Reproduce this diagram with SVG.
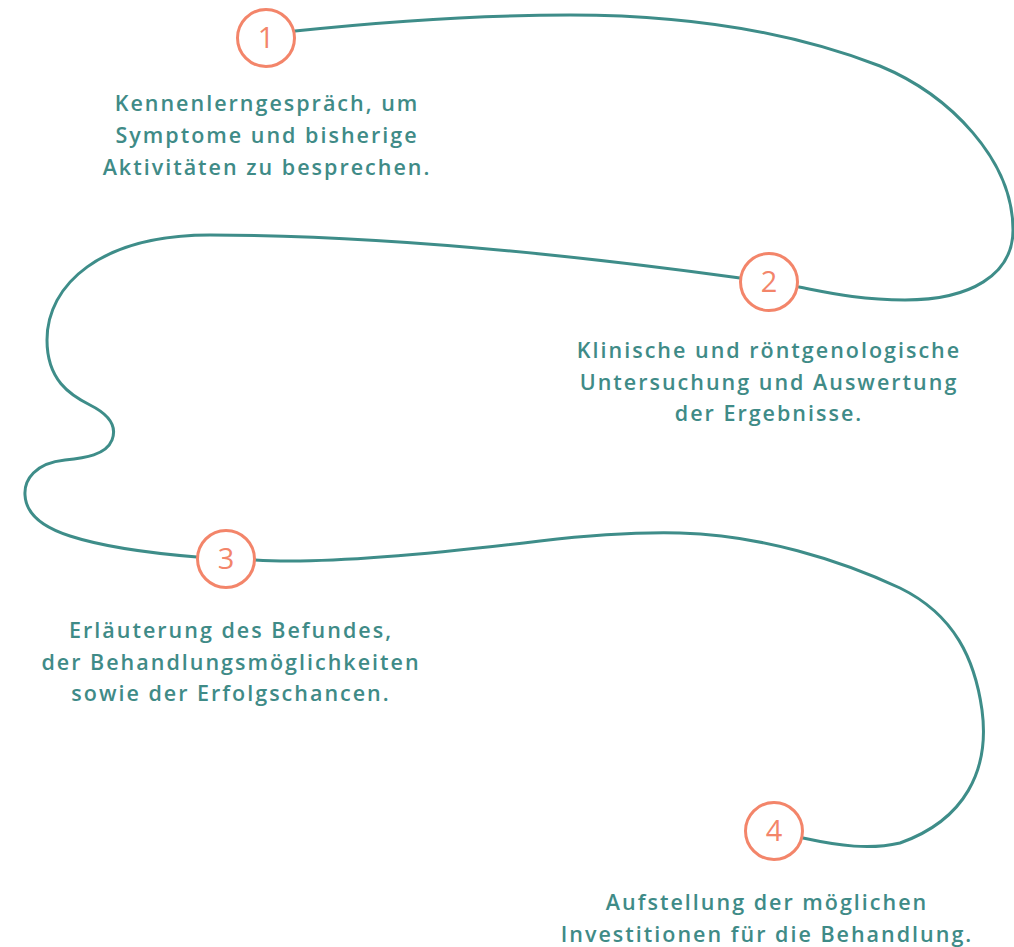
<svg xmlns="http://www.w3.org/2000/svg" width="1014" height="947" viewBox="0 0 1014 947">
<style>
.line{fill:none;stroke:#3E8D89;stroke-width:3;stroke-linecap:round}
.ring{fill:#fff;stroke:#F3856A;stroke-width:3}
.num{font-family:"Open Sans","Liberation Sans",sans-serif;font-size:29px;fill:#F3856A;text-anchor:middle}
.lbl{font-family:"Open Sans","Liberation Sans",sans-serif;font-size:21.5px;font-weight:600;fill:#3F8B87;text-anchor:middle;letter-spacing:2px}
</style>
<rect width="1014" height="947" fill="#fff"/>
<g id="connectors">
<path class="line" d="M295,31 C380,22 470,15 570,15 C700,15 800,35 880,66 C950,95 1013,160 1013,230 C1013,275 970,300 905,300 C860,300 830,293 799,287"/>
<path class="line" d="M740,278 C580,256 380,235 210,235 C100,235 47,285 47,340 C47,380 70,395 90,405 C110,415 117,427 112,440 C106,455 85,458 65,460 C35,463 24,480 25,495 C26,515 45,528 70,536 C110,549 160,554 197,557"/>
<path class="line" d="M255,560 C330,565 450,552 540,541 C600,534 640,532 680,533 C760,535 840,560 900,588 C955,615 975,660 982,710 C990,770 965,820 900,843 C870,850 840,846 803,838"/>
</g>
<g id="step1">
<circle class="ring" cx="266" cy="38" r="28.5"/>
<text class="num" x="266" y="48">1</text>
<text class="lbl" x="267" y="111">Kennenlerngespräch, um</text>
<text class="lbl" x="267" y="143">Symptome und bisherige</text>
<text class="lbl" x="267" y="175">Aktivitäten zu besprechen.</text>
</g>
<g id="step2">
<circle class="ring" cx="769" cy="282" r="28.5"/>
<text class="num" x="769" y="292">2</text>
<text class="lbl" x="769" y="358">Klinische und röntgenologische</text>
<text class="lbl" x="769" y="390">Untersuchung und Auswertung</text>
<text class="lbl" x="769" y="421">der Ergebnisse.</text>
</g>
<g id="step3">
<circle class="ring" cx="226" cy="559" r="28.5"/>
<text class="num" x="226" y="569">3</text>
<text class="lbl" x="231" y="638">Erläuterung des Befundes,</text>
<text class="lbl" x="231" y="670">der Behandlungsmöglichkeiten</text>
<text class="lbl" x="231" y="701">sowie der Erfolgschancen.</text>
</g>
<g id="step4">
<circle class="ring" cx="774" cy="831" r="28.5"/>
<text class="num" x="774" y="841">4</text>
<text class="lbl" x="767" y="910">Aufstellung der möglichen</text>
<text class="lbl" x="767" y="942">Investitionen für die Behandlung.</text>
</g>
</svg>
